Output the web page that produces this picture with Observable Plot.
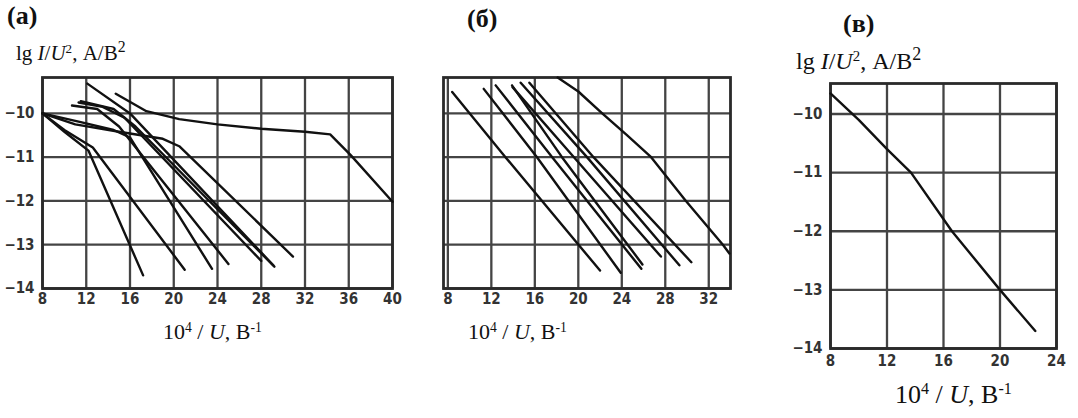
<!DOCTYPE html>
<html><head><meta charset="utf-8">
<script src="https://cdn.jsdelivr.net/npm/d3@7"></script>
<script src="https://cdn.jsdelivr.net/npm/@observablehq/plot@0.6"></script>
<style>
body{margin:0;background:#fff;}
#wrap{position:relative;width:1078px;height:418px;overflow:hidden;font-family:"Liberation Serif","Times New Roman",serif;color:#111;}
.t{position:absolute;white-space:nowrap;line-height:1;}
.panel{position:absolute;}
.title{font-weight:bold;font-size:26px;}
.lab{font-size:21px;}
.sp{font-size:62%;position:relative;top:-0.55em;}
.sb{font-size:75%;position:relative;top:-0.5em;}
</style>
</head><body>
<div id="wrap">
  <div class="t title" style="left:7px;top:3px;">(а)</div>
  <div class="t title" style="left:467px;top:6px;">(б)</div>
  <div class="t title" style="left:843px;top:11px;">(в)</div>
  <div class="t lab" style="left:16px;top:43px;">lg <i>I</i>/<i>U</i><span class="sp">2</span>, А/В<span class="sb">2</span></div>
  <div class="t lab" style="left:796px;top:49px;font-size:24px;">lg <i>I</i>/<i>U</i><span class="sp">2</span>, А/В<span class="sb">2</span></div>
  <div class="t lab" style="left:163px;top:321px;font-size:22px;">10<span class="sp">4</span> / <i>U</i>, В<span class="sp">-1</span></div>
  <div class="t lab" style="left:468px;top:321px;font-size:22px;">10<span class="sp">4</span> / <i>U</i>, В<span class="sp">-1</span></div>
  <div class="t lab" style="left:895px;top:382px;font-size:26px;">10<span class="sp">4</span> / <i>U</i>, В<span class="sp">-1</span></div>
  <div id="pa" class="panel" style="left:0px;top:60px;"></div>
  <div id="pb" class="panel" style="left:400px;top:60px;"></div>
  <div id="pc" class="panel" style="left:760px;top:70px;"></div>
</div>
<script>
// ---- Panel (а) data ----
const aXTicks = [8, 12, 16, 20, 24, 28, 32, 36, 40];
const aYTicks = [-14, -13, -12, -11, -10];
const aL1 = [[8,-10],[10,-10.42],[12.2,-10.85],[17.2,-13.7]];
const aL2 = [[8,-10],[10,-10.38],[12.6,-10.78],[21.0,-13.57]];
const aL3 = [[8,-10],[11.5,-10.2],[14.5,-10.38],[16,-10.55],[23.5,-13.55]];
const aL4 = [[10.7,-9.82],[13,-9.9],[15,-10.3],[25,-13.44]];
const aL5 = [[11.3,-9.75],[13.5,-9.85],[15.5,-10.1],[28,-13.37]];
const aL6 = [[12.1,-9.32],[16,-10.0],[29.1,-13.47]];
const aL7 = [[11.5,-9.72],[14.5,-9.9],[16.5,-10.3],[29.2,-13.5]];
const aL8 = [[8,-10],[11,-10.25],[15,-10.42],[19,-10.58],[20.5,-10.75],[30.9,-13.27]];
const aL9 = [[14.7,-9.55],[17.5,-9.95],[20.5,-10.13],[24,-10.25],[28,-10.35],[32,-10.42],[34.3,-10.48],[36.2,-10.96],[40,-12.02]];

// ---- Panel (б) data ----
const bXTicks = [8, 12, 16, 20, 24, 28, 32];
const bYTicks = [-14, -13, -12, -11, -10];
const bL1 = [[8.4,-9.51],[13.3,-11],[22.0,-13.59]];
const bL2 = [[11.3,-9.44],[16.2,-11],[23.9,-13.64]];
const bL3 = [[12.4,-9.36],[17.6,-11],[25.8,-13.55]];
const bL4 = [[13.9,-9.36],[18.5,-11],[25.9,-13.45]];
const bL5 = [[13.95,-9.4],[19.6,-11],[27.6,-13.27]];
const bL6 = [[14.7,-9.3],[20.8,-11],[29.3,-13.47]];
const bL7 = [[15.5,-9.3],[21.4,-11],[30.4,-13.4]];
const bL8 = [[18.1,-9.18],[20,-9.5],[22.2,-10],[24.5,-10.5],[26.7,-11],[29.9,-12],[33.3,-13],[33.9,-13.2]];

// ---- Panel (в) data ----
const cXTicks = [8, 12, 16, 20, 24];
const cYTicks = [-14, -13, -12, -11, -10];
const cL1 = [[8,-9.65],[10,-10.1],[12,-10.6],[13.7,-11],[16.6,-12],[20,-13],[22.5,-13.7]];

function rowsOf(lines) {
  return lines.flatMap((pts, i) => pts.map(([x, y]) => ({series: i, x, y})));
}
const fmt = d => String(d).replace("-", "\u2212");

function panel(lines, o) {
  const rows = rowsOf(lines);
  const marks = [
    Plot.gridX(o.xTicks, {stroke: "#444", strokeOpacity: 1, strokeWidth: 2.3}),
    Plot.gridY(o.yTicks, {stroke: "#444", strokeOpacity: 1, strokeWidth: 2.3}),
    Plot.frame({stroke: "#2a2a2a", strokeWidth: 2.8}),
    Plot.line(rows, {x: "x", y: "y", z: "series", stroke: "#111", strokeWidth: 2.4, strokeLinejoin: "round"}),
    Plot.axisX(o.xTicks, {tickSize: 0, tickPadding: o.xPad, fill: "#333", fontWeight: "bold", tickFormat: fmt})
  ];
  if (o.showY) marks.push(Plot.axisY(o.yTicks, {tickSize: 0, tickPadding: 8, fill: "#333", fontWeight: "bold", tickFormat: fmt}));
  return Plot.plot({
    width: o.width, height: o.height,
    marginLeft: o.ml, marginRight: o.mr, marginTop: o.mt, marginBottom: o.mb,
    x: {domain: o.xDomain, label: null, axis: null},
    y: {domain: o.yDomain, label: null, axis: null},
    style: {fontFamily: "'DejaVu Sans Condensed', 'DejaVu Sans', sans-serif", fontSize: "15px", background: "transparent", overflow: "visible"},
    marks
  });
}

document.getElementById("pa").append(panel([aL1,aL2,aL3,aL4,aL5,aL6,aL7,aL8,aL9], {
  xTicks: aXTicks, yTicks: aYTicks, xDomain: [8, 40], yDomain: [-14, -9.18],
  width: 400, height: 250, ml: 42, mr: 8, mt: 17, mb: 22, showY: true, xPad: 5
}));
document.getElementById("pb").append(panel([bL1,bL2,bL3,bL4,bL5,bL6,bL7,bL8], {
  xTicks: bXTicks, yTicks: bYTicks, xDomain: [7.6, 34], yDomain: [-14, -9.18],
  width: 340, height: 250, ml: 43, mr: 10, mt: 17, mb: 22, showY: false, xPad: 5
}));
document.getElementById("pc").append(panel([cL1], {
  xTicks: cXTicks, yTicks: cYTicks, xDomain: [8, 24], yDomain: [-14, -9.48],
  width: 318, height: 300, ml: 70, mr: 22, mt: 13, mb: 22, showY: true, xPad: 7
}));
</script>
</body></html>
